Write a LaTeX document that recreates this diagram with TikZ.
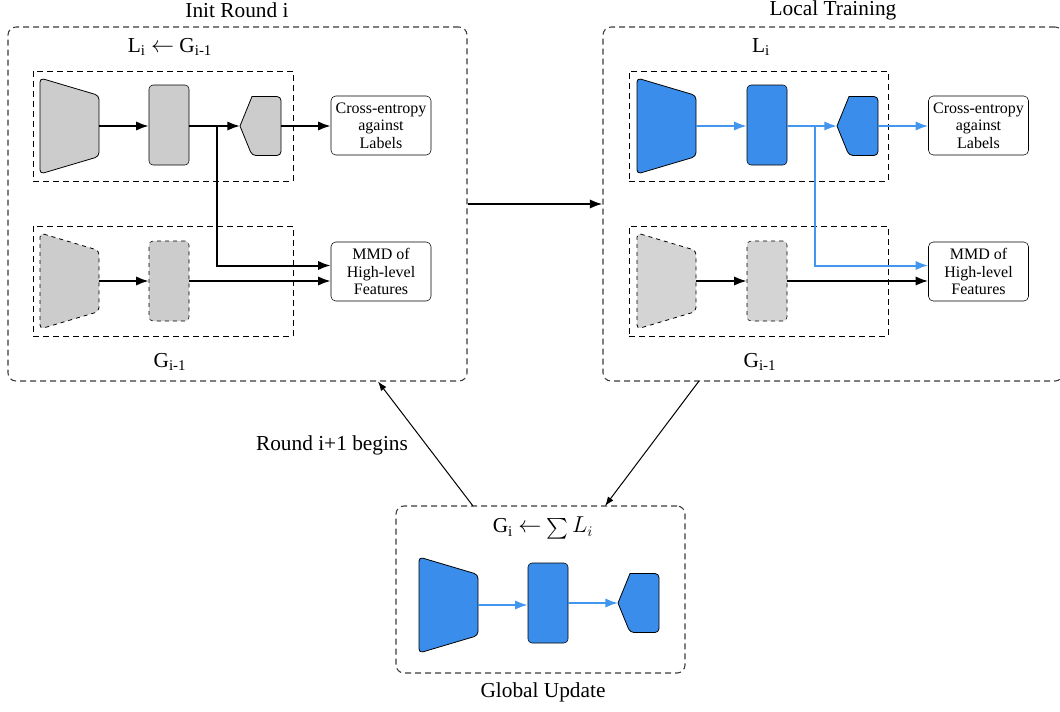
\documentclass[tikz,border=0pt]{standalone}
\usepackage{fontspec}
\usepackage{graphicx}
\setmainfont{Liberation Serif}
\usetikzlibrary{arrows.meta,calc}
\definecolor{blueA}{HTML}{3A8DEA}
\definecolor{blueL}{HTML}{4396EE}
\definecolor{grayA}{HTML}{CCCCCC}
\definecolor{grayB}{HTML}{D4D4D4}
\definecolor{frameC}{HTML}{3A3A3A}
\tikzset{
  x=0.75pt, y=-0.75pt,
  enc/.pic={\draw[pic actions, rounded corners=3] (-29.5,-48) -- (29.5,-30.5) -- (29.5,30.5) -- (-29.5,48) -- cycle;
            \coordinate (-out) at (29.5,0);},
  head/.pic={\draw[pic actions] (0,0) -- (12,-29.5) [rounded corners=3] -- (41,-29.5) -- (41,29.5) -- (12,29.5) [sharp corners] -- cycle;
             \coordinate (-in) at (0,0); \coordinate (-out) at (41,0);},
  blk/.style={draw, rounded corners=3pt, minimum width=30pt, minimum height=60pt, inner sep=0pt},
  txtbox/.style={draw, rounded corners=3.5pt, minimum width=75pt, minimum height=44.25pt, inner sep=0pt,
                 align=center, font=\fontsize{12}{13.1}\selectfont},
  inner/.style={draw, dash pattern=on 4.5pt off 3pt, line width=0.75pt, inner sep=0pt},
  outer/.style={draw=frameC, dash pattern=on 4.5pt off 3pt, line width=0.8pt, rounded corners=6pt, inner sep=0pt},
  big/.style={font=\fontsize{16}{19}\selectfont},
  conn/.style={line width=1.5pt, -{Latex[length=9.5pt,width=7pt]}},
  bconn/.style={conn, blueL},
  thin/.style={line width=0.75pt, -{Latex[length=7pt,width=5pt]}},
}
\begin{document}
\begin{tikzpicture}
\useasboundingbox (0,0) rectangle (1060,711);
\clip (0,0) rectangle (1060,711);

% ---------- outer frames ----------
\node[outer, minimum width=344.25pt, minimum height=265.5pt] (L) at (237.5,204) {};
\node[outer, minimum width=345pt, minimum height=265.5pt] (R) at (833,204) {};
\node[outer, minimum width=216.75pt, minimum height=125.25pt] (B) at (540.5,589.5) {};

\node[big] (tL) at (237,10) {Init Round i};
\node[big] (tR) at (833,10) {Local Training};
\node[big] (tB) at (543,692) {Global Update};

% ---------- left panel ----------
\node[big] (lblL1) at (170,47) {L\textsubscript{i} $\leftarrow$ G\textsubscript{i-1}};
\node[big] (lblL2) at (170,362) {G\textsubscript{i-1}};
\node[inner, minimum width=195pt, minimum height=82.5pt] (iLt) at (163,126) {};
\node[inner, minimum width=195pt, minimum height=82.5pt] (iLb) at (163,281) {};

\pic[draw, fill=grayA, line width=0.6pt] (e1) at (69.5,126) {enc};
\node[blk, fill=grayA] (r1) at (169,125) {};
\pic[draw, fill=grayA, line width=0.6pt] (h1) at (240,126) {head};
\node[txtbox] (ce1) at (381,125.5) {Cross-entropy\\against\\Labels};

\pic[draw, fill=grayA, line width=0.6pt, dashed] (e2) at (69.5,281) {enc};
\node[blk, fill=grayA, dashed] (r2) at (169,281) {};
\node[txtbox] (mm1) at (381,271.5) {MMD of\\High-level\\Features};

\draw[conn] (e1-out) -- (e1-out -| r1.west);
\draw[conn] (r1.east |- h1-in) -- (h1-in);
\draw[conn] (h1-out) -- (h1-out -| ce1.west);
\coordinate (br1) at (217,126);
\draw[conn] (br1) |- ([yshift=4.5pt]mm1.west);
\draw[conn] (e2-out) -- (r2.west);
\draw[conn] (r2.east) -- (r2.east -| mm1.west);

% ---------- right panel ----------
\node[big] (lblR1) at (761,47) {L\textsubscript{i}};
\node[big] (lblR2) at (760,362) {G\textsubscript{i-1}};
\node[inner, minimum width=194.25pt, minimum height=82.5pt] (iRt) at (758.5,126) {};
\node[inner, minimum width=194.25pt, minimum height=82.5pt] (iRb) at (758.5,281) {};

\pic[draw, fill=blueA, line width=0.6pt] (e3) at (666.5,126) {enc};
\node[blk, fill=blueA] (r3) at (767,125) {};
\pic[draw, fill=blueA, line width=0.6pt] (h3) at (837,126) {head};
\node[txtbox] (ce2) at (978.5,125.5) {Cross-entropy\\against\\Labels};

\pic[draw, fill=grayB, line width=0.6pt, dashed] (e4) at (666.5,281) {enc};
\node[blk, fill=grayB, dashed] (r4) at (767,281) {};
\node[txtbox] (mm2) at (978.5,271.5) {MMD of\\High-level\\Features};

\draw[bconn] (e3-out) -- (e3-out -| r3.west);
\draw[bconn] (r3.east |- h3-in) -- (h3-in);
\draw[bconn] (h3-out) -- (h3-out -| ce2.west);
\coordinate (br2) at (815,126);
\draw[bconn] (br2) |- ([yshift=4.5pt]mm2.west);
\draw[conn] (e4-out) -- (r4.west);
\draw[conn] (r4.east) -- (r4.east -| mm2.west);

% ---------- bottom panel ----------
\node[big] (lblB) at (543,528) {G\textsubscript{i} $\leftarrow$ \raisebox{-0.22em}{\scalebox{1.55}{$\sum$}}\,$L_i$};
\pic[draw, fill=blueA, line width=0.6pt] (e5) at (448.5,605) {enc};
\node[blk, fill=blueA] (r5) at (548,603) {};
\pic[draw, fill=blueA, line width=0.6pt] (h5) at (618,603) {head};
\draw[bconn] (e5-out) -- (e5-out -| r5.west);
\draw[bconn] (r5.east |- h5-in) -- (h5-in);

% ---------- panel connectors ----------
\draw[conn] (L.east) -- (R.west);
\coordinate (c1) at (473,506);
\coordinate (c2) at (378,381.5);
\coordinate (c3) at (699,381);
\coordinate (c4) at (605,506);
\draw[thin] (c1) -- (c2);
\draw[thin] (c3) -- (c4);
\node[big] (rnd) at (332,445) {Round i+1 begins};
\end{tikzpicture}
\end{document}
